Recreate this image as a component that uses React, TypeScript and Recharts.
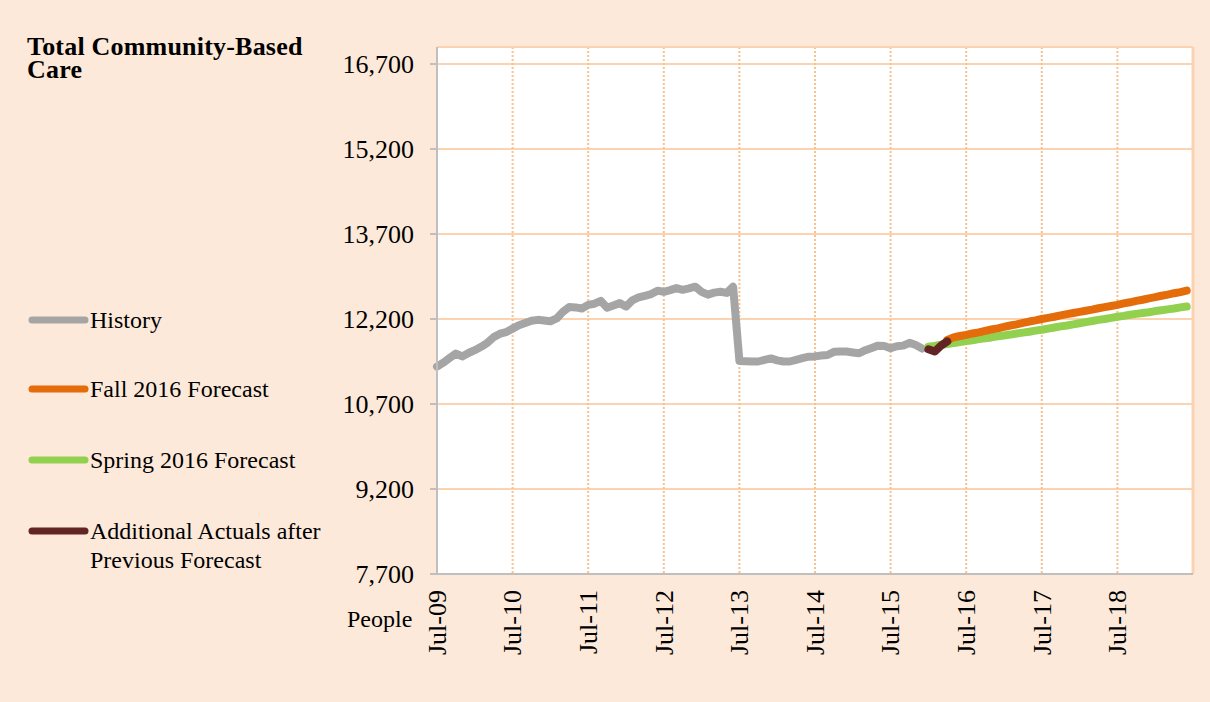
import { CartesianGrid, Line, LineChart, ReferenceLine, XAxis, YAxis } from "recharts"

// monthly values, month 0 = Jul-09
const history = [
  11360, 11430, 11510, 11590, 11540, 11600, 11650, 11710, 11780, 11880,
  11940, 11970, 12030, 12090, 12130, 12170, 12185, 12175, 12160, 12210,
  12330, 12410, 12405, 12385, 12450, 12470, 12520, 12400, 12440, 12480,
  12420, 12530, 12580, 12610, 12640, 12700, 12680, 12710, 12745, 12715,
  12740, 12770, 12680, 12630, 12665, 12680, 12660, 12770, 11460, 11455,
  11450, 11450, 11480, 11505, 11470, 11450, 11450, 11480, 11510, 11535,
  11540, 11555, 11565, 11620, 11625, 11625, 11610, 11595, 11650, 11690,
  11730, 11725, 11685, 11720, 11730, 11780, 11740, 11680,
]
const actualsStart = 78
const additionalActuals = [11665, 11625, 11730, 11805]

const springStart = 78
const spring2016 = [
  11710, 11725, 11745, 11760, 11775, 11795, 11810, 11825, 11845, 11860,
  11875, 11895, 11910, 11925, 11945, 11960, 11975, 11995, 12010, 12030,
  12050, 12070, 12085, 12105, 12125, 12145, 12165, 12185, 12200, 12220,
  12240, 12255, 12275, 12290, 12305, 12320, 12340, 12355, 12370, 12385,
  12405, 12420,
]

const fallStart = 81
const fall2016 = [
  11830, 11875, 11900, 11920, 11945, 11965, 11990, 12015, 12035, 12060,
  12085, 12105, 12130, 12155, 12175, 12200, 12220, 12240, 12265, 12285,
  12305, 12325, 12345, 12365, 12390, 12410, 12430, 12450, 12475, 12495,
  12520, 12540, 12565, 12585, 12610, 12630, 12655, 12675, 12700,
]

const monthCount = 120
const yearTicks = [0, 12, 24, 36, 48, 60, 72, 84, 96, 108]
const yearLabels = ["Jul-09", "Jul-10", "Jul-11", "Jul-12", "Jul-13", "Jul-14", "Jul-15", "Jul-16", "Jul-17", "Jul-18"]
const yTicks = [7700, 9200, 10700, 12200, 13700, 15200, 16700]
const yMax = 17000

const legendItems = [
  { key: "history", label: ["History"], color: "#A5A5A5", top: 320 },
  { key: "fall", label: ["Fall 2016 Forecast"], color: "#E46C0A", top: 389 },
  { key: "spring", label: ["Spring 2016 Forecast"], color: "#92D050", top: 460 },
  { key: "actuals", label: ["Additional Actuals after", "Previous Forecast"], color: "#632523", top: 531 },
]

const pick = (arr: number[], start: number, m: number) => {
  const v = arr[m - start]
  return v === undefined ? null : v
}

const rows = Array.from({ length: monthCount }, (_, m) => ({
  m,
  history: pick(history, 0, m),
  spring: pick(spring2016, springStart, m),
  fall: pick(fall2016, fallStart, m),
  actuals: pick(additionalActuals, actualsStart, m),
}))

const serif = '"Liberation Serif", "Times New Roman", serif'

const XTick = (props: any) => {
  const { x, y, payload } = props
  const idx = yearTicks.indexOf(payload.value)
  return (
    <text
      x={x}
      y={y}
      transform={`rotate(-90 ${x} ${y})`}
      textAnchor="end"
      dy="0.34em"
      fontSize={26}
      fontFamily={serif}
      fill="#000"
    >
      {yearLabels[idx]}
    </text>
  )
}

export default function App() {
  return (
    <div style={{ position: "absolute", left: 0, top: 0, width: 1210, height: 702, background: "#FDE9D9", fontFamily: serif, overflow: "hidden" }}>
      <div style={{ position: "absolute", left: 0, top: 0 }}>
        <LineChart width={1210} height={702} data={rows} margin={{ top: 47, right: 17, bottom: 0, left: 0 }}>
          <CartesianGrid vertical={false} stroke="#FBD3B1" strokeWidth={2} fill="#FFFFFF" />
          <CartesianGrid horizontal={false} stroke="#F9C090" strokeWidth={2} strokeDasharray="2 2" />
          <ReferenceLine y={yMax} stroke="#FBD3B1" strokeWidth={2} />
          <ReferenceLine x={monthCount} stroke="#FBD3B1" strokeWidth={3} />
          <XAxis
            dataKey="m"
            type="number"
            domain={[0, monthCount]}
            ticks={yearTicks}
            height={128}
            axisLine={{ stroke: "#BFBFBF", strokeWidth: 2 }}
            tickLine={false}
            tickSize={6}
            tickMargin={10}
            tick={<XTick />}
            interval={0}
          />
          <YAxis
            type="number"
            domain={[yTicks[0], yMax]}
            ticks={yTicks}
            width={437}
            axisLine={{ stroke: "#BFBFBF", strokeWidth: 2 }}
            tickLine={{ stroke: "#BFBFBF", strokeWidth: 2 }}
            tickSize={7}
            tickMargin={16}
            tick={{ fill: "#000", fontSize: 26, fontFamily: serif }}
            tickFormatter={(v: number) => v.toLocaleString("en-US")}
            interval={0}
          />
          <Line type="linear" dataKey="history" stroke="#A5A5A5" strokeWidth={8} dot={false} strokeLinecap="round" strokeLinejoin="round" isAnimationActive={false} />
          <Line type="linear" dataKey="spring" stroke="#92D050" strokeWidth={8} dot={false} strokeLinecap="round" strokeLinejoin="round" isAnimationActive={false} />
          <Line type="linear" dataKey="fall" stroke="#E46C0A" strokeWidth={8} dot={false} strokeLinecap="round" strokeLinejoin="round" isAnimationActive={false} />
          <Line type="linear" dataKey="actuals" stroke="#632523" strokeWidth={8} dot={false} strokeLinecap="round" strokeLinejoin="round" isAnimationActive={false} />
        </LineChart>
      </div>

      {/* Title */}
      <div style={{ position: "absolute", left: 27, top: 35, fontSize: 26, fontWeight: "bold", lineHeight: "23px", color: "#000", whiteSpace: "nowrap", letterSpacing: "0.2px" }}>
        <div>Total Community-Based</div>
        <div>Care</div>
      </div>

      {/* Legend */}
      {legendItems.map((item) => (
        <div key={item.key} style={{ position: "absolute", left: 0, top: item.top - 14 }}>
          <svg width={90} height={28} style={{ position: "absolute", left: 0, top: 0 }}>
            <line x1={32} y1={14} x2={85} y2={14} stroke={item.color} strokeWidth={7} strokeLinecap="round" />
          </svg>
          <div style={{ position: "absolute", left: 90, top: 0, fontSize: 24, lineHeight: "28.5px", color: "#000", whiteSpace: "nowrap" }}>
            {item.label.map((l) => (
              <div key={l}>{l}</div>
            ))}
          </div>
        </div>
      ))}

      {/* Unit */}
      <div style={{ position: "absolute", left: 347, top: 607, fontSize: 24, lineHeight: "24px", color: "#000" }}>People</div>
    </div>
  )
}
